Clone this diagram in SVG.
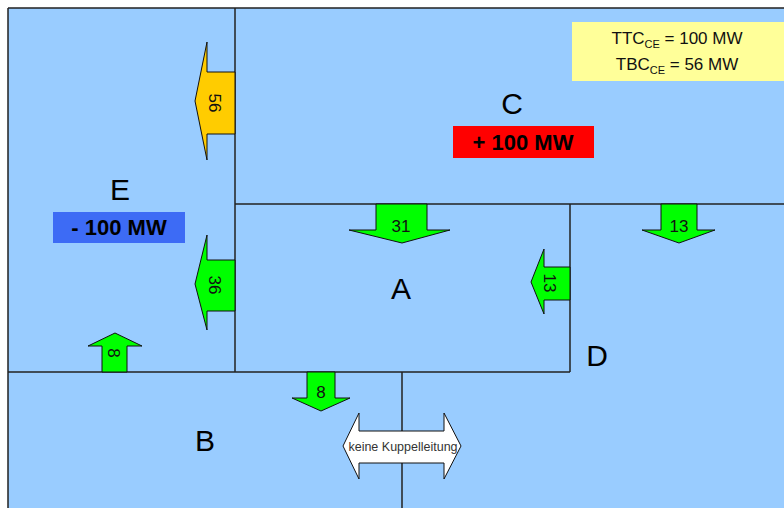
<svg xmlns="http://www.w3.org/2000/svg" width="784" height="508" viewBox="0 0 784 508">
<style>
.ln{stroke:#222;stroke-width:1.5;fill:none}
.arr{stroke:#111;stroke-width:1}
.g{fill:#00FF00}
.lbl{font-family:"Liberation Sans",Arial,sans-serif;font-size:17px;fill:#111;text-anchor:middle}
.big{font-family:"Liberation Sans",Arial,sans-serif;font-size:30px;fill:#000;text-anchor:middle}
.mw{font-family:"Liberation Sans",Arial,sans-serif;font-size:22px;font-weight:bold;fill:#000;text-anchor:middle}
</style>
<rect width="784" height="508" fill="#fff"/>
<rect x="8" y="8" width="776" height="500" fill="#99CCFF"/>
<g id="connectors">
<path class="ln" d="M8,8 H784 M8,8 V508 M235,8 V372 M235,204 H784 M570,204 V372 M8,372 H570 M402,372 V508"/>
</g>
<g id="info">
<rect x="572" y="22" width="212" height="59" fill="#FFFF99"/>
<text x="677" y="44" font-family="Liberation Sans,Arial,sans-serif" font-size="17" text-anchor="middle" fill="#111">TTC<tspan font-size="11" dy="4">CE</tspan><tspan dy="-4"> = 100 MW</tspan></text>
<text x="677" y="70" font-family="Liberation Sans,Arial,sans-serif" font-size="17" text-anchor="middle" fill="#111">TBC<tspan font-size="11" dy="4">CE</tspan><tspan dy="-4"> = 56 MW</tspan></text>
</g>
<g id="C">
<text class="big" x="512" y="114">C</text>
<rect x="453" y="126" width="141" height="32" fill="#FF0000"/>
<text class="mw" x="523" y="150">+ 100 MW</text>
</g>
<g id="E">
<text class="big" x="120" y="200">E</text>
<rect x="53" y="212" width="132" height="31" fill="#3D6BF5"/>
<text class="mw" x="119" y="235">- 100 MW</text>
</g>
<g id="A"><text class="big" x="401" y="299">A</text></g>
<g id="B"><text class="big" x="205" y="451">B</text></g>
<g id="D"><text class="big" x="597" y="366">D</text></g>
<g id="flow56">
<polygon class="arr" fill="#FFCC00" points="235,72 207,72 207,42 195,101 207,160 207,134 235,134"/>
<text class="lbl" transform="translate(215,103) rotate(90)" y="6">56</text>
</g>
<g id="flow36">
<polygon class="arr g" points="235,260 207,260 207,235 195,284 207,330 207,311 235,311"/>
<text class="lbl" transform="translate(215,285) rotate(90)" y="6">36</text>
</g>
<g id="flow31">
<polygon class="arr g" points="376,204 376,230 349,230 402,243 450,230 427,230 427,204"/>
<text class="lbl" x="401" y="232">31</text>
</g>
<g id="flow13down">
<polygon class="arr g" points="661,204 661,230 642,230 679,243 715,230 697,230 697,204"/>
<text class="lbl" x="679" y="232">13</text>
</g>
<g id="flow13left">
<polygon class="arr g" points="570,267 544,267 544,249 531,282 544,314 544,300 570,300"/>
<text class="lbl" transform="translate(550,283) rotate(90)" y="6">13</text>
</g>
<g id="flow8up">
<polygon class="arr g" points="102,372 102,346 88,346 115,333 142,346 127,346 127,372"/>
<text class="lbl" transform="translate(114,353) rotate(90)" y="6">8</text>
</g>
<g id="flow8down">
<polygon class="arr g" points="307,372 307,398 292,398 321,411 350,398 335,398 335,372"/>
<text class="lbl" x="321" y="398">8</text>
</g>
<g id="noLink">
<polygon class="arr" fill="#fff" points="343,446 359,413 359,431 444,431 444,413 461,446 444,479 444,463 359,463 359,479"/>
<text x="403" y="451" font-family="Liberation Sans,Arial,sans-serif" font-size="12.5" text-anchor="middle" fill="#333">keine Kuppelleitung</text>
</g>
</svg>
